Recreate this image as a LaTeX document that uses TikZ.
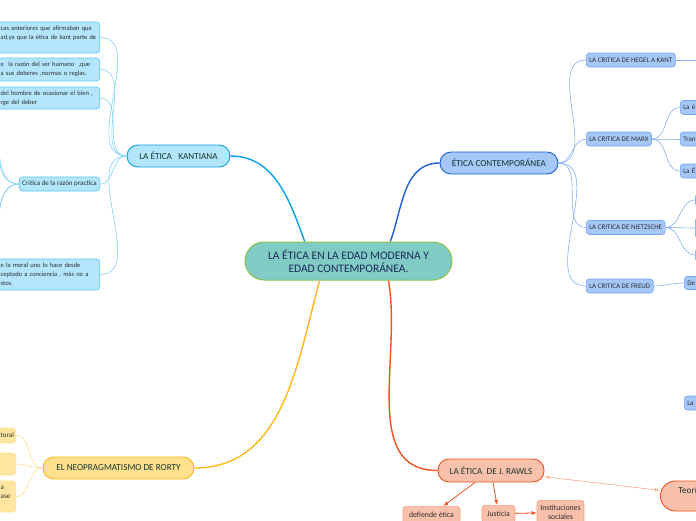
\documentclass[tikz,border=0pt]{standalone}
\usepackage{fontspec}
\setmainfont{Carlito}
\usepackage{xcolor}
\usetikzlibrary{arrows.meta, positioning}

\definecolor{rootfill}{HTML}{80CBC4}
\definecolor{rootline}{HTML}{8BC34A}
\definecolor{roottext}{HTML}{1C2A5A}
\definecolor{topictext}{HTML}{17352F}
\definecolor{leaftext}{HTML}{2E2E2E}
\definecolor{kantfill}{HTML}{B3E5FC}
\definecolor{kantline}{HTML}{0AA0E6}
\definecolor{kantleaf}{HTML}{5CC6F5}
\definecolor{kantlink}{HTML}{86D3F6}
\definecolor{ecfill}{HTML}{A6C8F8}
\definecolor{ecline}{HTML}{1D5FD2}
\definecolor{ecleaf}{HTML}{74A5EE}
\definecolor{eclink}{HTML}{86B0F0}
\definecolor{rortyfill}{HTML}{FFE08C}
\definecolor{rortyline}{HTML}{FFB81A}
\definecolor{rortyleaf}{HTML}{FFE6A0}
\definecolor{rortylink}{HTML}{FFDF94}
\definecolor{rawlsfill}{HTML}{F9C0AB}
\definecolor{rawlsline}{HTML}{F4511E}
\definecolor{rawlsleaf}{HTML}{F8A283}
\definecolor{rawlslink}{HTML}{F6A68A}

\begin{document}
\begin{tikzpicture}[
    x=1pt, y=-1pt,
    root/.style={rectangle, rounded corners=19pt, draw=rootline, line width=1pt, fill=rootfill, text=roottext, minimum width=207pt, minimum height=38pt, align=center, font=\fontsize{11.5}{13}\selectfont},
    topic/.style={rectangle, rounded corners=11pt, line width=0.9pt, minimum height=22pt, text=topictext, font=\fontsize{9.2}{11}\selectfont},
    leaf/.style={rectangle, rounded corners=3pt, line width=0.6pt, inner xsep=3pt, inner ysep=2pt, minimum height=14pt, text=leaftext, font=\fontsize{7}{9}\selectfont},
    kantbox/.style={leaf, draw=kantleaf, fill=kantfill},
    cutbox/.style={kantbox, text width=96pt, align=left, anchor=east, font=\fontsize{6.5}{9}\selectfont},
    ecbox/.style={leaf, draw=ecleaf, fill=ecfill},
    rortybox/.style={leaf, draw=rortyline!45, fill=rortyleaf},
    rawlsbox/.style={leaf, draw=rawlsleaf, fill=rawlsfill, font=\fontsize{7.8}{9}\selectfont},
    branch/.style={line width=1.4pt},
    twig/.style={line width=0.6pt},
    arrow/.style={-{Latex[length=5pt, width=4pt]}, line width=0.8pt, draw=rawlsline},
    twoway/.style={{Latex[open, length=5pt, width=4pt]}-{Latex[open, length=5pt, width=4pt]}, line width=0.6pt, draw=rawlslink}
]
\useasboundingbox (0,0) rectangle (696,520);
\clip (0,0) rectangle (696,520);

% centre and main topics
\node[root] (root) at (348.5,261) {LA ÉTICA EN LA EDAD MODERNA Y\\EDAD CONTEMPORÁNEA.};
\node[topic, draw=kantline, fill=kantfill, minimum width=103pt] (kant) at (178.5,156) {LA ÉTICA\ \ \ KANTIANA};
\node[topic, draw=ecline, fill=ecfill, minimum width=118pt] (contemp) at (499,163) {ÉTICA CONTEMPORÁNEA};
\node[topic, draw=rortyline, fill=rortyfill, minimum width=151pt] (rorty) at (118.5,468) {EL NEOPRAGMATISMO DE RORTY};
\node[topic, draw=rawlsline, fill=rawlsfill, minimum width=106pt, minimum height=23pt] (rawls) at (491,470.5) {LA ÉTICA\ \ DE J. RAWLS};
\node[topic, draw=rawlsline, fill=rawlsfill, minimum height=30pt, rounded corners=15pt, inner xsep=18pt, text width=60pt, align=left, anchor=west] (teoria) at (660,496) {Teorí\\\mbox{}};

\draw[branch, kantline] (root.156) to[out=110, in=0] (kant.east);
\draw[branch, ecline] (root.25) to[out=70, in=180] (contemp.west);
\draw[branch, rortyline] (root.-146) to[out=-105, in=0] (rorty.east);
\draw[branch, rawlsline] (root.-26) to[out=-80, in=180] (rawls.west);

% kantiana
\node[cutbox, minimum height=31pt] (kleaf1) at (100,37.5) {cas anteriores que afirmaban que\\ad,ya que la ética de kant parte de\\\mbox{}};
\node[cutbox, minimum height=23pt] (kleaf2) at (100,69.5) {e\ \ la razón del ser humano\ \ ,que\\a sus deberes ,normas o reglas.};
\node[cutbox, minimum height=22pt] (kleaf3) at (100,98) {del hombre de ocasionar el bien ,\\rge del deber};
\node[kantbox, anchor=east] (razon) at (100,184) {Critica de la razón practica};
\node[cutbox, minimum height=31pt] (kleaf5) at (100,274.5) {e la moral uno lo hace desde\\ceptado a conciencia , más no a\\stos.};
\coordinate (raz1) at (-22,86);
\coordinate (raz2) at (-22,112);
\coordinate (raz3) at (-22,236);
\coordinate (raz4) at (-22,262);

\draw[twig, kantlink] (kant.west) to[out=180, in=0] (kleaf1.east);
\draw[twig, kantlink] (kant.west) to[out=180, in=0] (kleaf2.east);
\draw[twig, kantlink] (kant.west) to[out=180, in=0] (kleaf3.east);
\draw[twig, kantlink] (kant.west) to[out=180, in=0] (razon.east);
\draw[twig, kantlink] (kant.west) to[out=180, in=0] (kleaf5.east);
\draw[twig, kantlink] (razon.west) to[out=180, in=0] (raz1);
\draw[twig, kantlink] (razon.west) to[out=180, in=0] (raz2);
\draw[twig, kantlink] (razon.west) to[out=180, in=0] (raz3);
\draw[twig, kantlink] (razon.west) to[out=180, in=0] (raz4);

% contemporanea
\node[ecbox, anchor=west] (hegel) at (586,60) {LA CRITICA DE HEGEL A KANT};
\node[ecbox, anchor=west] (marx) at (586,139) {LA CRITICA DE MARX};
\node[ecbox, anchor=west] (nietzsche) at (586,227.5) {LA CRITICA DE NIETZSCHE};
\node[ecbox, anchor=west] (freud) at (586,286) {LA CRITICA DE FREUD};
\coordinate (hegelkid) at (712,60);
\node[ecbox, anchor=west, text width=30pt, align=left] (marx1) at (680,107.5) {La é};
\node[ecbox, anchor=west, text width=30pt, align=left] (marx2) at (680,139) {Tran};
\node[ecbox, anchor=west, text width=30pt, align=left] (marx3) at (680,171) {La É};
\node[ecbox, anchor=west, minimum width=20pt, minimum height=12pt] (nz1) at (695,200) {};
\node[ecbox, anchor=west, minimum width=20pt, minimum height=20pt] (nz2) at (695,228) {};
\node[ecbox, anchor=west, minimum width=20pt, minimum height=12pt] (nz3) at (695,255) {};
\node[ecbox, anchor=west, text width=30pt, align=left, minimum height=13pt] (freud1) at (684,283) {De};
\node[ecbox, anchor=west, text width=30pt, align=left] (lone) at (684,403) {La};

\draw[twig, eclink] (contemp.east) to[out=0, in=180] (hegel.west);
\draw[twig, eclink] (contemp.east) to[out=0, in=180] (marx.west);
\draw[twig, eclink] (contemp.east) to[out=0, in=180] (nietzsche.west);
\draw[twig, eclink] (contemp.east) to[out=0, in=180] (freud.west);
\draw[twig, eclink] (hegel.east) -- (hegelkid);
\draw[twig, eclink] (marx.east) to[out=0, in=180] (marx1.west);
\draw[twig, eclink] (marx.east) to[out=0, in=180] (marx2.west);
\draw[twig, eclink] (marx.east) to[out=0, in=180] (marx3.west);
\draw[twig, eclink] (nietzsche.east) to[out=0, in=180] (nz1.west);
\draw[twig, eclink] (nietzsche.east) to[out=0, in=180] (nz2.west);
\draw[twig, eclink] (nietzsche.east) to[out=0, in=180] (nz3.west);
\draw[twig, eclink] (freud.east) to[out=0, in=180] (freud1.west);

% rorty
\node[rortybox, anchor=east, text width=12pt, align=left, minimum height=15pt] (rorty1) at (16,435.5) {toral};
\node[rortybox, anchor=east, minimum width=30pt, minimum height=22pt] (rorty2) at (16,464) {};
\node[rortybox, anchor=east, text width=12pt, align=left, minimum height=31pt] (rorty3) at (16,496.5) {a\\ase\\\mbox{}};

\draw[twig, rortylink] (rorty.west) to[out=180, in=0] (rorty1.east);
\draw[twig, rortylink] (rorty.west) to[out=180, in=0] (rorty2.east);
\draw[twig, rortylink] (rorty.west) to[out=180, in=0] (rorty3.east);

% rawls
\node[rawlsbox, minimum width=57pt, minimum height=17pt, anchor=north] (defiende) at (431.5,506) {defiende ética};
\node[rawlsbox, minimum width=33pt, minimum height=17pt, anchor=north] (justicia) at (498.5,505) {Justicia};
\node[rawlsbox, minimum width=47pt, minimum height=24pt, anchor=north, align=center] (instituciones) at (560.5,500) {Instituciones\\sociales};

\draw[arrow] (rawls) -- (defiende);
\draw[arrow] (rawls) -- (justicia);
\draw[arrow] (justicia) -- (instituciones);
\draw[twoway] (rawls) -- (teoria);
\end{tikzpicture}
\end{document}
